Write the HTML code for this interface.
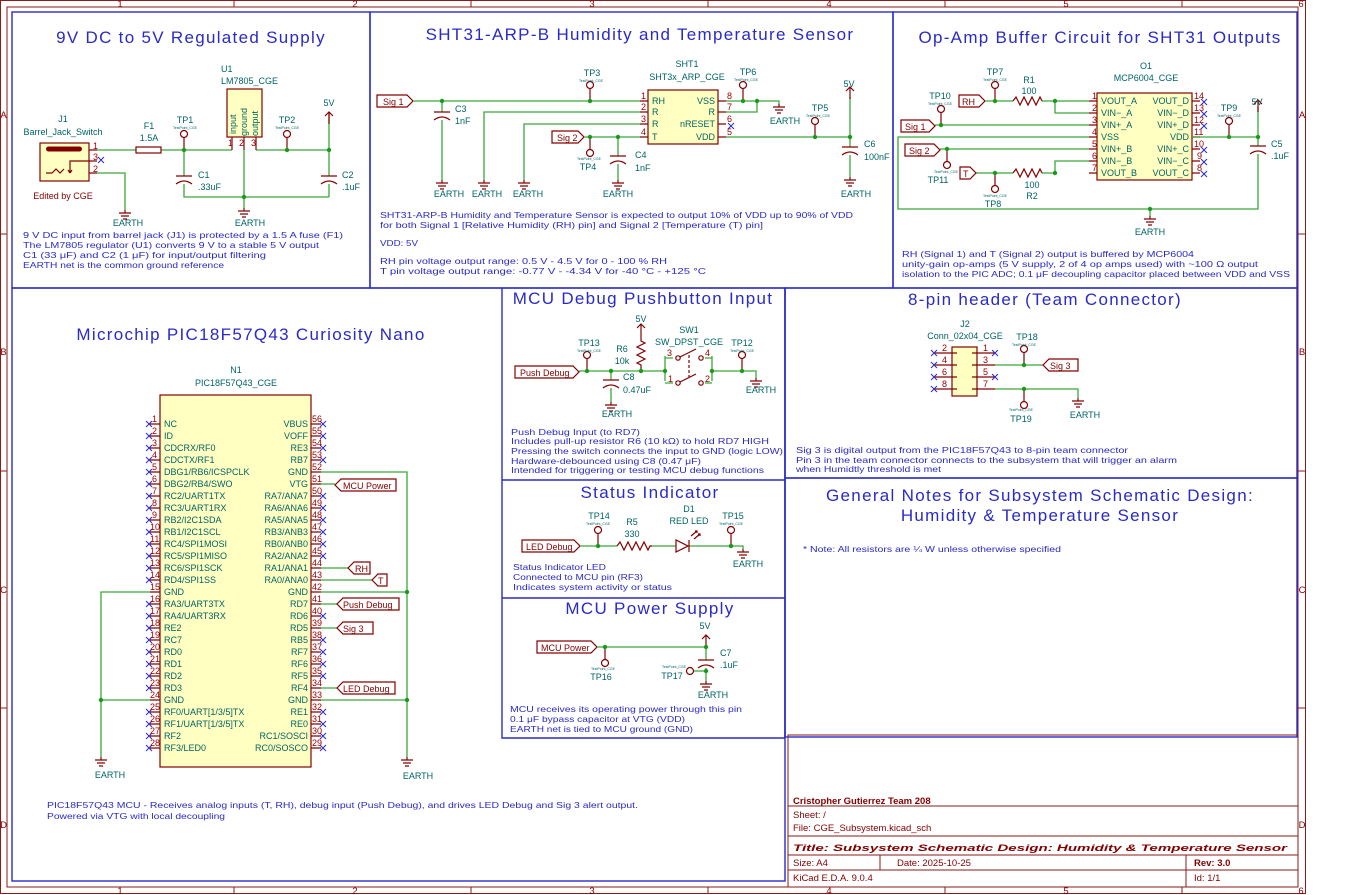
<!DOCTYPE html>
<html><head><meta charset="utf-8"><style>
html,body{margin:0;padding:0;background:#fff}
svg{display:block}
text{font-family:"Liberation Sans","DejaVu Sans",sans-serif}
.w{stroke:#3aa83a;stroke-width:1.3;fill:none}
.s{stroke:#840000;stroke-width:1.2;fill:none}
.sf{stroke:#840000;stroke-width:1.2;fill:#ffffc2}
.b{stroke:#2a2ac8;stroke-width:1.4;fill:none}
.fr{stroke:#8b1a1a;stroke-width:1;fill:none}
.j{fill:#1a9a1a}
.ref{fill:#006464;font-size:9px}
.pn{fill:#a00000;font-size:9px}
.pl{fill:#006464;font-size:9px}
.tp{fill:#006464;font-size:3.5px}
.ti{fill:#2a2ac8;font-size:17px;letter-spacing:1.3px}
.nt{fill:#2a2ac8;font-size:8.6px}
.lb{fill:#840000;font-size:9px}
.x{stroke:#2a2ac8;stroke-width:1;fill:none}
.tb{fill:#840000;font-size:9.5px}
</style></head><body>
<svg width="1351" height="895" viewBox="0 0 1351 895" xmlns="http://www.w3.org/2000/svg">
<defs>
<g id="g"><path class="s" d="M0,0v3M-6,3h12M-4,6h8M-2,9h4"/></g>
<g id="tpu"><circle cx="0" cy="-16" r="3.5" class="s"/><path class="s" d="M0,-12.5V0"/></g>
<g id="tpd"><circle cx="0" cy="16" r="3.5" class="s"/><path class="s" d="M0,12.5V0"/></g>
<g id="cap"><path class="s" d="M-8,0h16M-8,8Q0,2 8,8"/></g>
<g id="pw"><path class="s" d="M0,0v-12M-4,-8L0,-12L4,-8"/></g>
<g id="xx"><path class="x" d="M-3,-3l6,6M-3,3l6,-6"/></g>
</defs>

<!-- frame -->
<rect x="0.5" y="0.5" width="1305" height="893" class="fr"/>
<rect x="7" y="7" width="1291" height="880" class="fr"/>
<g class="fr">
<path d="M234,0v7M471,0v7M708,0v7M945,0v7M1182,0v7M234,887v7M471,887v7M708,887v7M945,887v7M1182,887v7M0,234h7M0,471h7M0,708h7M1298,234h7M1298,471h7M1298,708h7"/>
</g>
<g class="tb" font-size="8px" text-anchor="middle">
<text x="120" y="7">1</text><text x="355" y="7">2</text><text x="592" y="7">3</text><text x="829" y="7">4</text><text x="1066" y="7">5</text><text x="1301" y="7">6</text>
<text x="120" y="894">1</text><text x="355" y="894">2</text><text x="592" y="894">3</text><text x="829" y="894">4</text><text x="1066" y="894">5</text><text x="1301" y="894">6</text>
<text x="3.5" y="118">A</text><text x="3.5" y="355">B</text><text x="3.5" y="593">C</text><text x="3.5" y="828">D</text>
<text x="1302" y="118">A</text><text x="1302" y="355">B</text><text x="1302" y="593">C</text><text x="1302" y="828">D</text>
</g>

<!-- blue boxes -->
<rect x="12" y="12" width="358" height="276" class="b"/>
<rect x="370" y="12" width="523" height="276" class="b"/>
<rect x="893" y="12" width="404" height="276" class="b"/>
<rect x="12" y="288" width="773" height="593" class="b"/>
<path class="b" d="M502,288V738H785M502,480H785M502,598H785M785,288V738"/>
<rect x="785" y="288" width="512" height="190" class="b"/>
<rect x="785" y="478" width="512" height="259" class="b"/>

<!-- titles -->
<g class="ti" text-anchor="middle">
<text x="191" y="43">9V DC to 5V Regulated Supply</text>
<text x="640" y="40">SHT31-ARP-B Humidity and Temperature Sensor</text>
<text x="1100" y="43">Op-Amp Buffer Circuit for SHT31 Outputs</text>
<text x="251" y="340">Microchip PIC18F57Q43 Curiosity Nano</text>
<text x="643" y="304">MCU Debug Pushbutton Input</text>
<text x="650" y="498">Status Indicator</text>
<text x="650" y="614">MCU Power Supply</text>
<text x="1045" y="305">8-pin header (Team Connector)</text>
<text x="1040" y="501">General Notes for Subsystem Schematic Design:</text>
<text x="1040" y="521">Humidity &amp; Temperature Sensor</text>
</g>

<!-- ===== Box 1 ===== -->
<rect x="40" y="143" width="49" height="38" class="sf"/>
<rect x="46" y="146.5" width="36" height="5" rx="2.5" fill="#840000"/>
<path class="s" d="M46,173h6l4,-4l4,4l4,-4M70,173v-12h19M70,173l-2,-3M70,173l2,-3M89,150h8M89,161h8M89,173h8"/>
<text class="pn" x="93" y="149">1</text><text class="pn" x="93" y="160">3</text><text class="pn" x="93" y="172">2</text>
<use href="#xx" x="101" y="160"/>
<text class="ref" x="63" y="122" text-anchor="middle">J1</text>
<text class="ref" x="63" y="135" text-anchor="middle">Barrel_Jack_Switch</text>
<text class="lb" x="63" y="199" text-anchor="middle" font-size="8.5">Edited by CGE</text>
<path class="w" d="M97,150H136M161,150H232M97,173H125V210"/>
<rect x="136" y="147" width="25" height="6" class="s"/>
<text class="ref" x="149" y="129" text-anchor="middle">F1</text><text class="ref" x="149" y="141" text-anchor="middle">1.5A</text>
<use href="#g" x="125" y="210"/><text class="ref" x="128" y="226" text-anchor="middle">EARTH</text>
<path class="w" d="M184,150V176M184,184V197H329M244,150V208M256,150H329M329,112V176M329,184V197"/>
<use href="#cap" x="184" y="176"/><use href="#cap" x="329" y="176"/>
<text class="ref" x="198" y="178">C1</text><text class="ref" x="198" y="190">.33uF</text>
<text class="ref" x="342" y="178">C2</text><text class="ref" x="342" y="190">.1uF</text>
<use href="#tpu" x="184" y="150"/><text class="ref" x="185" y="123" text-anchor="middle">TP1</text><text class="tp" x="185" y="129" text-anchor="middle">TestPoint_CGE</text>
<use href="#tpu" x="287" y="150"/><text class="ref" x="287" y="123" text-anchor="middle">TP2</text><text class="tp" x="287" y="129" text-anchor="middle">TestPoint_CGE</text>
<use href="#pw" x="329" y="124"/><text class="ref" x="329" y="106" text-anchor="middle">5V</text>
<rect x="227" y="89" width="35" height="48" class="sf"/>
<path class="s" d="M232,137v13M244,137v13M256,137v13"/>
<text class="pn" x="228" y="146" font-size="8">1</text><text class="pn" x="239" y="146" font-size="8">2</text><text class="pn" x="251" y="146" font-size="8">3</text>
<text class="pl" transform="translate(236,134) rotate(-90)">input</text>
<text class="pl" transform="translate(247,136) rotate(-90)">ground</text>
<text class="pl" transform="translate(258,136) rotate(-90)">output</text>
<text class="ref" x="221" y="72">U1</text><text class="ref" x="221" y="84">LM7805_CGE</text>
<use href="#g" x="244" y="208"/><text class="ref" x="250" y="226" text-anchor="middle">EARTH</text>
<circle class="j" cx="184" cy="150" r="2.2"/><circle class="j" cx="287" cy="150" r="2.2"/><circle class="j" cx="329" cy="150" r="2.2"/><circle class="j" cx="244" cy="197" r="2.2"/>
<g class="nt"><text x="23" y="238" textLength="320" lengthAdjust="spacingAndGlyphs">9 V DC input from barrel jack (J1) is protected by a 1.5 A fuse (F1)</text>
<text x="23" y="248" textLength="296" lengthAdjust="spacingAndGlyphs">The LM7805 regulator (U1) converts 9 V to a stable 5 V output</text>
<text x="23" y="258" textLength="243" lengthAdjust="spacingAndGlyphs">C1 (33 μF) and C2 (1 μF) for input/output filtering</text>
<text x="23" y="268" textLength="201" lengthAdjust="spacingAndGlyphs">EARTH net is the common ground reference</text></g>

<!-- ===== Box 2 SHT31 ===== -->
<polygon class="s" points="377,95 407,95 413,101 407,107 377,107"/><text class="lb" x="383" y="105">Sig 1</text>
<path class="w" d="M413,101H640M442,101V112M442,120V180M640,112H484V180M640,124H524V180"/>
<use href="#cap" x="442" y="112"/>
<text class="ref" x="455" y="112">C3</text><text class="ref" x="455" y="124">1nF</text>
<use href="#g" x="442" y="180"/><use href="#g" x="484" y="180"/><use href="#g" x="524" y="180"/><use href="#g" x="618" y="180"/>
<text class="ref" x="449" y="197" text-anchor="middle">EARTH</text><text class="ref" x="487" y="197" text-anchor="middle">EARTH</text><text class="ref" x="528" y="197" text-anchor="middle">EARTH</text><text class="ref" x="618" y="197" text-anchor="middle">EARTH</text>
<use href="#tpu" x="590" y="101"/><text class="ref" x="592" y="76" text-anchor="middle">TP3</text><text class="tp" x="591" y="82" text-anchor="middle">TestPoint_CGE</text>
<polygon class="s" points="552,131 578,131 584,137 578,143 552,143"/><text class="lb" x="557" y="141">Sig 2</text>
<path class="w" d="M584,137H640M618,137V156M618,164V180"/>
<use href="#cap" x="618" y="156"/>
<text class="ref" x="635" y="158">C4</text><text class="ref" x="635" y="171">1nF</text>
<use href="#tpd" x="590" y="137"/><text class="tp" x="589" y="160" text-anchor="middle">TestPoint_CGE</text><text class="ref" x="588" y="170" text-anchor="middle">TP4</text>
<rect x="648" y="90" width="70" height="54" class="sf"/>
<path class="s" d="M640,101h8M640,112h8M640,124h8M640,137h8M718,101h8M718,112h8M718,124h8M718,137h8"/>
<g class="pn"><text x="641" y="99">1</text><text x="641" y="110">2</text><text x="641" y="122">3</text><text x="641" y="135">4</text>
<text x="727" y="99">8</text><text x="727" y="110">7</text><text x="727" y="122">6</text><text x="727" y="135">5</text></g>
<g class="pl"><text x="652" y="104">RH</text><text x="652" y="115">R</text><text x="652" y="127">R</text><text x="652" y="140">T</text></g>
<g class="pl" text-anchor="end"><text x="715" y="104">VSS</text><text x="715" y="115">R</text><text x="715" y="127">nRESET</text><text x="715" y="140">VDD</text></g>
<text class="ref" x="687" y="67" text-anchor="middle">SHT1</text><text class="ref" x="687" y="80" text-anchor="middle">SHT3x_ARP_CGE</text>
<use href="#xx" x="731" y="126"/>
<path class="w" d="M726,101H779V104M726,112H757V101M726,137H850M850,97V147M850,155V177"/>
<use href="#g" x="779" y="104"/><text class="ref" x="785" y="124" text-anchor="middle">EARTH</text>
<use href="#tpu" x="743" y="101"/><text class="ref" x="748" y="75" text-anchor="middle">TP6</text><text class="tp" x="746" y="81" text-anchor="middle">TestPoint_CGE</text>
<use href="#tpu" x="815" y="137"/><text class="ref" x="820" y="111" text-anchor="middle">TP5</text><text class="tp" x="818" y="117" text-anchor="middle">TestPoint_CGE</text>
<use href="#pw" x="850" y="99"/><text class="ref" x="849" y="87" text-anchor="middle">5V</text>
<use href="#cap" x="850" y="147"/>
<text class="ref" x="864" y="147">C6</text><text class="ref" x="864" y="160">100nF</text>
<use href="#g" x="850" y="177"/><text class="ref" x="856" y="197" text-anchor="middle">EARTH</text>
<g class="j"><circle cx="442" cy="101" r="2.2"/><circle cx="590" cy="101" r="2.2"/><circle cx="590" cy="137" r="2.2"/><circle cx="618" cy="137" r="2.2"/><circle cx="743" cy="101" r="2.2"/><circle cx="757" cy="101" r="2.2"/><circle cx="815" cy="137" r="2.2"/><circle cx="850" cy="137" r="2.2"/></g>
<g class="nt"><text x="380" y="218" textLength="473" lengthAdjust="spacingAndGlyphs">SHT31-ARP-B Humidity and Temperature Sensor is expected to output 10% of VDD up to 90% of VDD</text>
<text x="380" y="228" textLength="383" lengthAdjust="spacingAndGlyphs">for both Signal 1 [Relative Humidity (RH) pin] and Signal 2 [Temperature (T) pin]</text>
<text x="380" y="246" textLength="38" lengthAdjust="spacingAndGlyphs">VDD: 5V</text>
<text x="380" y="264" textLength="287" lengthAdjust="spacingAndGlyphs">RH pin voltage output range: 0.5 V - 4.5 V for 0 - 100 % RH</text>
<text x="380" y="274" textLength="326" lengthAdjust="spacingAndGlyphs">T pin voltage output range: -0.77 V - -4.34 V for -40 °C - +125 °C</text></g>

<!-- ===== Box 3 Op-amp ===== -->
<rect x="1097" y="93" width="95" height="87" class="sf"/>
<path class="s" d="M1089,101h8M1089,113h8M1089,125h8M1089,137h8M1089,149h8M1089,161h8M1089,173h8M1192,101h8M1192,113h8M1192,125h8M1192,137h8M1192,149h8M1192,161h8M1192,173h8"/>
<g class="pn"><text x="1092" y="99">1</text><text x="1092" y="111">2</text><text x="1092" y="123">3</text><text x="1092" y="135">4</text><text x="1092" y="147">5</text><text x="1092" y="159">6</text><text x="1092" y="171">7</text>
<text x="1194" y="99">14</text><text x="1194" y="111">13</text><text x="1194" y="123">12</text><text x="1194" y="135">11</text><text x="1194" y="147">10</text><text x="1197" y="159">9</text><text x="1197" y="171">8</text></g>
<g class="pl"><text x="1101" y="104">VOUT_A</text><text x="1101" y="116">VIN−_A</text><text x="1101" y="128">VIN+_A</text><text x="1101" y="140">VSS</text><text x="1101" y="152">VIN+_B</text><text x="1101" y="164">VIN−_B</text><text x="1101" y="176">VOUT_B</text></g>
<g class="pl" text-anchor="end"><text x="1189" y="104">VOUT_D</text><text x="1189" y="116">VIN−_D</text><text x="1189" y="128">VIN+_D</text><text x="1189" y="140">VDD</text><text x="1189" y="152">VIN+_C</text><text x="1189" y="164">VIN−_C</text><text x="1189" y="176">VOUT_C</text></g>
<use href="#xx" x="1204" y="102"/><use href="#xx" x="1204" y="114"/><use href="#xx" x="1204" y="126"/><use href="#xx" x="1204" y="150"/><use href="#xx" x="1204" y="162"/><use href="#xx" x="1204" y="174"/>
<text class="ref" x="1146" y="69" text-anchor="middle">O1</text><text class="ref" x="1146" y="81" text-anchor="middle">MCP6004_CGE</text>
<polygon class="s" points="959,95 979,95 985,101 979,107 959,107"/><text class="lb" x="962" y="105">RH</text>
<path class="w" d="M985,101H1013M1042,101H1089M1055,101V113H1089M935,125H1089M1089,137H898V209H1258V154M940,149H1089M976,173H1013M1042,173H1055V161H1089M1192,137H1258V146M1258,107V146"/>
<path class="s" d="M1013,101l3,-4l4,8l4,-8l4,8l4,-8l4,8l4,-8l2,4M1013,173l3,-4l4,8l4,-8l4,8l4,-8l4,8l4,-8l2,4"/>
<text class="ref" x="1029" y="83" text-anchor="middle">R1</text><text class="ref" x="1029" y="94" text-anchor="middle">100</text>
<text class="ref" x="1032" y="188" text-anchor="middle">100</text><text class="ref" x="1032" y="199" text-anchor="middle">R2</text>
<use href="#tpu" x="995" y="101"/><text class="ref" x="995" y="75" text-anchor="middle">TP7</text><text class="tp" x="995" y="81" text-anchor="middle">TestPoint_CGE</text>
<polygon class="s" points="901,120 929,120 935,126 929,132 901,132"/><text class="lb" x="905" y="130">Sig 1</text>
<use href="#tpu" x="941" y="125"/><text class="ref" x="940" y="99" text-anchor="middle">TP10</text><text class="tp" x="940" y="105" text-anchor="middle">TestPoint_CGE</text>
<polygon class="s" points="905,144 934,144 940,150 934,156 905,156"/><text class="lb" x="909" y="154">Sig 2</text>
<use href="#tpd" x="947" y="149"/><text class="tp" x="946" y="173" text-anchor="middle">TestPoint_CGE</text><text class="ref" x="938" y="183" text-anchor="middle">TP11</text>
<polygon class="s" points="960,167 970,167 976,173 970,179 960,179"/><text class="lb" x="963" y="177">T</text>
<use href="#tpd" x="995" y="173"/><text class="tp" x="995" y="197" text-anchor="middle">TestPoint_CGE</text><text class="ref" x="993" y="207" text-anchor="middle">TP8</text>
<use href="#tpu" x="1229" y="137"/><text class="ref" x="1229" y="111" text-anchor="middle">TP9</text><text class="tp" x="1229" y="117" text-anchor="middle">TestPoint_CGE</text>
<use href="#pw" x="1258" y="112"/><text class="ref" x="1257" y="105" text-anchor="middle">5V</text>
<use href="#cap" x="1258" y="146"/>
<text class="ref" x="1271" y="147">C5</text><text class="ref" x="1271" y="159">.1uF</text>
<path class="w" d="M1150,209V216"/><use href="#g" x="1150" y="216"/><text class="ref" x="1150" y="235" text-anchor="middle">EARTH</text>
<g class="j"><circle cx="995" cy="101" r="2.2"/><circle cx="1055" cy="101" r="2.2"/><circle cx="941" cy="125" r="2.2"/><circle cx="947" cy="149" r="2.2"/><circle cx="995" cy="173" r="2.2"/><circle cx="1055" cy="173" r="2.2"/><circle cx="1229" cy="137" r="2.2"/><circle cx="1258" cy="137" r="2.2"/><circle cx="1150" cy="209" r="2.2"/></g>
<g class="nt"><text x="902" y="257" textLength="292" lengthAdjust="spacingAndGlyphs">RH (Signal 1) and T (Signal 2) output is buffered by MCP6004</text>
<text x="902" y="267" textLength="356" lengthAdjust="spacingAndGlyphs">unity-gain op-amps (5 V supply, 2 of 4 op amps used) with ~100 Ω output</text>
<text x="902" y="277" textLength="388" lengthAdjust="spacingAndGlyphs">isolation to the PIC ADC; 0.1 μF decoupling capacitor placed between VDD and VSS</text></g>

<!-- ===== MCU ===== -->
<text class="ref" x="236" y="373" text-anchor="middle">N1</text><text class="ref" x="236" y="386" text-anchor="middle">PIC18F57Q43_CGE</text>
<rect x="160" y="395" width="151" height="372" class="sf"/>
<g class="s">
<path d="M150,424h10M150,436h10M150,448h10M150,460h10M150,472h10M150,484h10M150,496h10M150,508h10M150,520h10M150,532h10M150,544h10M150,556h10M150,568h10M150,580h10M150,592h10M150,604h10M150,616h10M150,628h10M150,640h10M150,652h10M150,664h10M150,676h10M150,688h10M150,700h10M150,712h10M150,724h10M150,736h10M150,748h10"/>
<path d="M311,424h10M311,436h10M311,448h10M311,460h10M311,472h10M311,484h10M311,496h10M311,508h10M311,520h10M311,532h10M311,544h10M311,556h10M311,568h10M311,580h10M311,592h10M311,604h10M311,616h10M311,628h10M311,640h10M311,652h10M311,664h10M311,676h10M311,688h10M311,700h10M311,712h10M311,724h10M311,736h10M311,748h10"/>
</g>
<g class="x"><path d="M146,421l6,6M146,427l6,-6M146,433l6,6M146,439l6,-6M146,445l6,6M146,451l6,-6M146,457l6,6M146,463l6,-6M146,469l6,6M146,475l6,-6M146,481l6,6M146,487l6,-6M146,493l6,6M146,499l6,-6M146,505l6,6M146,511l6,-6M146,517l6,6M146,523l6,-6M146,529l6,6M146,535l6,-6M146,541l6,6M146,547l6,-6M146,553l6,6M146,559l6,-6M146,565l6,6M146,571l6,-6M146,577l6,6M146,583l6,-6M146,601l6,6M146,607l6,-6M146,613l6,6M146,619l6,-6M146,625l6,6M146,631l6,-6M146,637l6,6M146,643l6,-6M146,649l6,6M146,655l6,-6M146,661l6,6M146,667l6,-6M146,673l6,6M146,679l6,-6M146,685l6,6M146,691l6,-6M146,709l6,6M146,715l6,-6M146,721l6,6M146,727l6,-6M146,733l6,6M146,739l6,-6M146,745l6,6M146,751l6,-6"/>
<path d="M320,421l6,6M320,427l6,-6M320,433l6,6M320,439l6,-6M320,445l6,6M320,451l6,-6M320,457l6,6M320,463l6,-6M320,493l6,6M320,499l6,-6M320,505l6,6M320,511l6,-6M320,517l6,6M320,523l6,-6M320,529l6,6M320,535l6,-6M320,541l6,6M320,547l6,-6M320,553l6,6M320,559l6,-6M320,613l6,6M320,619l6,-6M320,637l6,6M320,643l6,-6M320,649l6,6M320,655l6,-6M320,661l6,6M320,667l6,-6M320,673l6,6M320,679l6,-6M320,709l6,6M320,715l6,-6M320,721l6,6M320,727l6,-6M320,733l6,6M320,739l6,-6M320,745l6,6M320,751l6,-6"/></g>
<g class="pn" font-size="8.5">
<text x="152" y="422">1</text><text x="152" y="434">2</text><text x="152" y="446">3</text><text x="152" y="458">4</text><text x="152" y="470">5</text><text x="152" y="482">6</text><text x="152" y="494">7</text><text x="152" y="506">8</text><text x="152" y="518">9</text><text x="150" y="530">10</text><text x="150" y="542">11</text><text x="150" y="554">12</text><text x="150" y="566">13</text><text x="150" y="578">14</text><text x="150" y="590">15</text><text x="150" y="602">16</text><text x="150" y="614">17</text><text x="150" y="626">18</text><text x="150" y="638">19</text><text x="150" y="650">20</text><text x="150" y="662">21</text><text x="150" y="674">22</text><text x="150" y="686">23</text><text x="150" y="698">24</text><text x="150" y="710">25</text><text x="150" y="722">26</text><text x="150" y="734">27</text><text x="150" y="746">28</text>
<text x="312" y="422">56</text><text x="312" y="434">55</text><text x="312" y="446">54</text><text x="312" y="458">53</text><text x="312" y="470">52</text><text x="312" y="482">51</text><text x="312" y="494">50</text><text x="312" y="506">49</text><text x="312" y="518">48</text><text x="312" y="530">47</text><text x="312" y="542">46</text><text x="312" y="554">45</text><text x="312" y="566">44</text><text x="312" y="578">43</text><text x="312" y="590">42</text><text x="312" y="602">41</text><text x="312" y="614">40</text><text x="312" y="626">39</text><text x="312" y="638">38</text><text x="312" y="650">37</text><text x="312" y="662">36</text><text x="312" y="674">35</text><text x="312" y="686">34</text><text x="312" y="698">33</text><text x="312" y="710">32</text><text x="312" y="722">31</text><text x="312" y="734">30</text><text x="312" y="746">29</text></g>
<g class="pl" font-size="8.6">
<text x="164" y="427">NC</text><text x="164" y="439">ID</text><text x="164" y="451">CDCRX/RF0</text><text x="164" y="463">CDCTX/RF1</text><text x="164" y="475">DBG1/RB6/ICSPCLK</text><text x="164" y="487">DBG2/RB4/SWO</text><text x="164" y="499">RC2/UART1TX</text><text x="164" y="511">RC3/UART1RX</text><text x="164" y="523">RB2/I2C1SDA</text><text x="164" y="535">RB1/I2C1SCL</text><text x="164" y="547">RC4/SPI1MOSI</text><text x="164" y="559">RC5/SPI1MISO</text><text x="164" y="571">RC6/SPI1SCK</text><text x="164" y="583">RD4/SPI1SS</text><text x="164" y="595">GND</text><text x="164" y="607">RA3/UART3TX</text><text x="164" y="619">RA4/UART3RX</text><text x="164" y="631">RE2</text><text x="164" y="643">RC7</text><text x="164" y="655">RD0</text><text x="164" y="667">RD1</text><text x="164" y="679">RD2</text><text x="164" y="691">RD3</text><text x="164" y="703">GND</text><text x="164" y="715">RF0/UART[1/3/5]TX</text><text x="164" y="727">RF1/UART[1/3/5]TX</text><text x="164" y="739">RF2</text><text x="164" y="751">RF3/LED0</text></g>
<g class="pl" font-size="8.6" text-anchor="end">
<text x="308" y="427">VBUS</text><text x="308" y="439">VOFF</text><text x="308" y="451">RE3</text><text x="308" y="463">RB7</text><text x="308" y="475">GND</text><text x="308" y="487">VTG</text><text x="308" y="499">RA7/ANA7</text><text x="308" y="511">RA6/ANA6</text><text x="308" y="523">RA5/ANA5</text><text x="308" y="535">RB3/ANB3</text><text x="308" y="547">RB0/ANB0</text><text x="308" y="559">RA2/ANA2</text><text x="308" y="571">RA1/ANA1</text><text x="308" y="583">RA0/ANA0</text><text x="308" y="595">GND</text><text x="308" y="607">RD7</text><text x="308" y="619">RD6</text><text x="308" y="631">RD5</text><text x="308" y="643">RB5</text><text x="308" y="655">RF7</text><text x="308" y="667">RF6</text><text x="308" y="679">RF5</text><text x="308" y="691">RF4</text><text x="308" y="703">GND</text><text x="308" y="715">RE1</text><text x="308" y="727">RE0</text><text x="308" y="739">RC1/SOSCI</text><text x="308" y="751">RC0/SOSCO</text></g>
<path class="w" d="M150,592H101V757M101,700H150M321,472H407V757M321,592H407M321,700H407M321,484H335M321,568H348M321,580H372M321,604H337M321,628H337M321,688H337"/>
<use href="#g" x="101" y="757"/><text class="ref" x="110" y="778" text-anchor="middle">EARTH</text>
<use href="#g" x="407" y="757"/><text class="ref" x="418" y="779" text-anchor="middle">EARTH</text>
<g class="j"><circle cx="101" cy="700" r="2.2"/><circle cx="407" cy="592" r="2.2"/><circle cx="407" cy="700" r="2.2"/></g>
<polygon class="s" points="335,485 341,479 396,479 396,491 341,491"/><text class="lb" x="343" y="489">MCU Power</text>
<polygon class="s" points="348,568 354,562 370,562 370,574 354,574"/><text class="lb" x="355" y="572">RH</text>
<polygon class="s" points="372,580 378,574 387,574 387,586 378,586"/><text class="lb" x="378" y="584">T</text>
<polygon class="s" points="337,604 343,598 399,598 399,610 343,610"/><text class="lb" x="343" y="608">Push Debug</text>
<polygon class="s" points="337,628 343,622 373,622 373,634 343,634"/><text class="lb" x="343" y="632">Sig 3</text>
<polygon class="s" points="337,688 343,682 395,682 395,694 343,694"/><text class="lb" x="343" y="692">LED Debug</text>
<g class="nt"><text x="47" y="808" textLength="591" lengthAdjust="spacingAndGlyphs">PIC18F57Q43 MCU - Receives analog inputs (T, RH), debug input (Push Debug), and drives LED Debug and Sig 3 alert output.</text>
<text x="47" y="819" textLength="178" lengthAdjust="spacingAndGlyphs">Powered via VTG with local decoupling</text></g>

<!-- ===== Debug ===== -->
<polygon class="s" points="515,366 573,366 579,372 573,378 515,378"/><text class="lb" x="520" y="376">Push Debug</text>
<path class="w" d="M579,371H665M611,371V380M611,388V402M665,356V381M712,356V381M712,371H756V378M665,358H673M705,358H712M665,383H673M705,383H712"/>
<use href="#cap" x="611" y="380"/>
<text class="ref" x="623" y="380">C8</text><text class="ref" x="623" y="393">0.47uF</text>
<use href="#g" x="611" y="402"/><text class="ref" x="617" y="417" text-anchor="middle">EARTH</text>
<use href="#tpu" x="587" y="371"/><text class="ref" x="589" y="346" text-anchor="middle">TP13</text><text class="tp" x="589" y="352" text-anchor="middle">TestPoint_CGE</text>
<path class="s" d="M641,371v-6l-4,-2l8,-4l-8,-4l8,-4l-8,-4l8,-4l-4,-2v-6M641,336v-12M637,328l4,-4l4,4"/>
<text class="ref" x="641" y="322" text-anchor="middle">5V</text>
<text class="ref" x="622" y="352" text-anchor="middle">R6</text><text class="ref" x="622" y="364" text-anchor="middle">10k</text>
<text class="ref" x="689" y="333" text-anchor="middle">SW1</text><text class="ref" x="689" y="345" text-anchor="middle">SW_DPST_CGE</text>
<g class="s"><circle cx="678" cy="358" r="2.2"/><circle cx="701" cy="358" r="2.2"/><circle cx="678" cy="383" r="2.2"/><circle cx="701" cy="383" r="2.2"/>
<path d="M680,357l16,-8M680,382l16,-8"/><path d="M689,355v22" stroke-dasharray="3,2"/></g>
<g class="pn"><text x="667" y="356">3</text><text x="705" y="356">4</text><text x="668" y="382">1</text><text x="705" y="382">2</text></g>
<use href="#tpu" x="742" y="371"/><text class="ref" x="742" y="346" text-anchor="middle">TP12</text><text class="tp" x="742" y="352" text-anchor="middle">TestPoint_CGE</text>
<use href="#g" x="756" y="378"/><text class="ref" x="761" y="393" text-anchor="middle">EARTH</text>
<g class="j"><circle cx="587" cy="371" r="2.2"/><circle cx="611" cy="371" r="2.2"/><circle cx="641" cy="371" r="2.2"/><circle cx="665" cy="371" r="2.2"/><circle cx="712" cy="371" r="2.2"/><circle cx="742" cy="371" r="2.2"/></g>
<g class="nt"><text x="511" y="435" textLength="129" lengthAdjust="spacingAndGlyphs">Push Debug Input (to RD7)</text>
<text x="511" y="444" textLength="258" lengthAdjust="spacingAndGlyphs">Includes pull-up resistor R6 (10 kΩ) to hold RD7 HIGH</text>
<text x="511" y="454" textLength="272" lengthAdjust="spacingAndGlyphs">Pressing the switch connects the input to GND (logic LOW)</text>
<text x="511" y="464" textLength="190" lengthAdjust="spacingAndGlyphs">Hardware-debounced using C8 (0.47 μF)</text>
<text x="511" y="473" textLength="253" lengthAdjust="spacingAndGlyphs">Intended for triggering or testing MCU debug functions</text></g>

<!-- ===== Status ===== -->
<polygon class="s" points="522,540 574,540 580,546 574,552 522,552"/><text class="lb" x="526" y="550">LED Debug</text>
<path class="w" d="M580,546H617M652,546H676M689,546H743V549"/>
<path class="s" d="M617,546l3,-4l4,8l4,-8l4,8l4,-8l4,8l4,-8l4,8l2,-4h2"/>
<path class="s" d="M676,540v12l12,-6z M689,540v12M691,536l6,-5M694,539l6,-5"/>
<path class="s" d="M695,531h2v2M698,534h2v2"/>
<text class="ref" x="689" y="512" text-anchor="middle">D1</text><text class="ref" x="689" y="524" text-anchor="middle">RED LED</text>
<text class="ref" x="632" y="525" text-anchor="middle">R5</text><text class="ref" x="632" y="537" text-anchor="middle">330</text>
<use href="#tpu" x="598" y="546"/><text class="ref" x="599" y="519" text-anchor="middle">TP14</text><text class="tp" x="598" y="525" text-anchor="middle">TestPoint_CGE</text>
<use href="#tpu" x="731" y="546"/><text class="ref" x="733" y="519" text-anchor="middle">TP15</text><text class="tp" x="731" y="525" text-anchor="middle">TestPoint_CGE</text>
<use href="#g" x="743" y="549"/><text class="ref" x="748" y="567" text-anchor="middle">EARTH</text>
<g class="j"><circle cx="598" cy="546" r="2.2"/><circle cx="731" cy="546" r="2.2"/></g>
<g class="nt"><text x="513" y="570" textLength="93" lengthAdjust="spacingAndGlyphs">Status Indicator LED</text>
<text x="513" y="580" textLength="130" lengthAdjust="spacingAndGlyphs">Connected to MCU pin (RF3)</text>
<text x="513" y="590" textLength="159" lengthAdjust="spacingAndGlyphs">Indicates system activity or status</text></g>

<!-- ===== MCU Power ===== -->
<polygon class="s" points="537,641 591,641 597,647 591,653 537,653"/><text class="lb" x="541" y="651">MCU Power</text>
<path class="w" d="M597,647H706V660M706,668V681M694,671H706"/>
<use href="#tpd" x="605" y="647"/><text class="tp" x="603" y="670" text-anchor="middle">TestPoint_CGE</text><text class="ref" x="601" y="680" text-anchor="middle">TP16</text>
<use href="#pw" x="706" y="647"/><text class="ref" x="705" y="629" text-anchor="middle">5V</text>
<use href="#cap" x="706" y="660"/>
<text class="ref" x="720" y="656">C7</text><text class="ref" x="720" y="668">.1uF</text>
<circle class="s" cx="690" cy="671" r="3.5"/><text class="tp" x="674" y="668" text-anchor="middle">TestPoint_CGE</text><text class="ref" x="672" y="679" text-anchor="middle">TP17</text>
<use href="#g" x="706" y="681"/><text class="ref" x="713" y="698" text-anchor="middle">EARTH</text>
<g class="j"><circle cx="605" cy="647" r="2.2"/><circle cx="706" cy="647" r="2.2"/><circle cx="706" cy="671" r="2.2"/></g>
<g class="nt"><text x="510" y="712" textLength="232" lengthAdjust="spacingAndGlyphs">MCU receives its operating power through this pin</text>
<text x="510" y="722" textLength="175" lengthAdjust="spacingAndGlyphs">0.1 μF bypass capacitor at VTG (VDD)</text>
<text x="510" y="732" textLength="183" lengthAdjust="spacingAndGlyphs">EARTH net is tied to MCU ground (GND)</text></g>

<!-- ===== 8-pin header ===== -->
<text class="ref" x="965" y="327" text-anchor="middle">J2</text><text class="ref" x="965" y="339" text-anchor="middle">Conn_02x04_CGE</text>
<rect x="952" y="347" width="25" height="49" class="sf"/>
<path class="s" d="M935,353h22M935,365h22M935,377h22M935,389h22M972,353h23M972,365h23M972,377h23M972,389h23"/>
<g class="pn"><text x="942" y="351">2</text><text x="942" y="363">4</text><text x="942" y="375">6</text><text x="942" y="387">8</text><text x="983" y="351">1</text><text x="983" y="363">3</text><text x="983" y="375">5</text><text x="983" y="387">7</text></g>
<use href="#xx" x="934" y="353"/><use href="#xx" x="934" y="365"/><use href="#xx" x="934" y="377"/><use href="#xx" x="934" y="389"/><use href="#xx" x="995" y="353"/><use href="#xx" x="995" y="377"/>
<path class="w" d="M995,365H1043M995,389H1078V398"/>
<polygon class="s" points="1043,365 1049,359 1078,359 1078,371 1049,371"/><text class="lb" x="1050" y="369">Sig 3</text>
<use href="#tpu" x="1024" y="365"/><text class="ref" x="1027" y="340" text-anchor="middle">TP18</text><text class="tp" x="1024" y="346" text-anchor="middle">TestPoint_CGE</text>
<use href="#tpd" x="1024" y="389"/><text class="tp" x="1021" y="411" text-anchor="middle">TestPoint_CGE</text><text class="ref" x="1021" y="422" text-anchor="middle">TP19</text>
<use href="#g" x="1078" y="398"/><text class="ref" x="1085" y="418" text-anchor="middle">EARTH</text>
<g class="j"><circle cx="1024" cy="365" r="2.2"/><circle cx="1024" cy="389" r="2.2"/></g>
<g class="nt"><text x="796" y="453" textLength="332" lengthAdjust="spacingAndGlyphs">Sig 3 is digital output from the PIC18F57Q43 to 8-pin team connector</text>
<text x="796" y="463" textLength="381" lengthAdjust="spacingAndGlyphs">Pin 3 in the team connector connects to the subsystem that will trigger an alarm</text>
<text x="796" y="472" textLength="145" lengthAdjust="spacingAndGlyphs">when Humidtly threshold is met</text></g>
<text class="nt" x="803" y="552" textLength="258" lengthAdjust="spacingAndGlyphs">* Note: All resistors are ¼ W unless otherwise specified</text>

<!-- ===== title block ===== -->
<rect x="788" y="735" width="510" height="152" class="fr" stroke-width="1.3"/>
<path class="fr" stroke-width="1.3" d="M788,806H1298M788,836H1298M788,855H1298M788,870H1298M880,855V870M1186,855V887"/>
<text class="tb" x="793" y="804" font-weight="bold">Cristopher Gutierrez Team 208</text>
<text class="tb" x="793" y="818">Sheet: /</text>
<text class="tb" x="793" y="831">File: CGE_Subsystem.kicad_sch</text>
<text class="tb" x="793" y="851" font-size="13.5" font-weight="bold" font-style="italic" textLength="494" lengthAdjust="spacingAndGlyphs">Title: Subsystem Schematic Design: Humidity &amp; Temperature Sensor</text>
<text class="tb" x="793" y="866">Size: A4</text>
<text class="tb" x="897" y="866">Date: 2025-10-25</text>
<text class="tb" x="1194" y="866" font-weight="bold">Rev: 3.0</text>
<text class="tb" x="793" y="881">KiCad E.D.A. 9.0.4</text>
<text class="tb" x="1194" y="881">Id: 1/1</text>
</svg>
</body></html>
